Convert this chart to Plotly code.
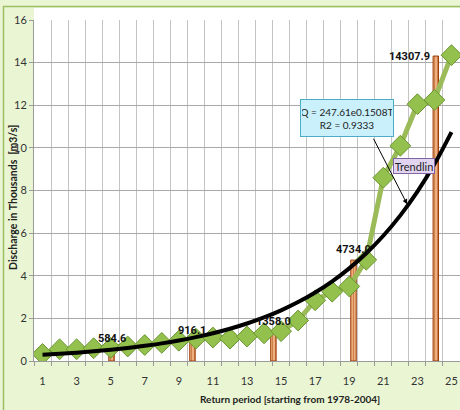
import math
import plotly.graph_objects as go

# Return periods (years counted from 1978) and observed peak discharge, thousands of m3/s
periods = list(range(1, 26))
discharge = [0.33, 0.55, 0.55, 0.6, 0.62, 0.68, 0.75, 0.85, 0.95, 1.05,
             1.1, 1.05, 1.15, 1.3, 1.4, 1.9, 2.85, 3.25, 3.5, 4.75,
             8.6, 10.1, 12.05, 12.25, 14.35]

# Exponential trendline Q = A * exp(B * T), Q in m3/s
trend_a = 247.61
trend_b = 0.1508
trend_r2 = 0.9333

# Design discharges (m3/s) marked at selected return periods
design_t = [5.05, 9.8, 14.55, 19.25, 24.08]
design_q = [584.6, 916.1, 1358.0, 4734.0, 14307.9]

x_ticks = list(range(1, 26, 2))
y_ticks = list(range(0, 17, 2))

trend_vals = [trend_a * math.exp(trend_b * t) / 1000 for t in periods]
design_k = [q / 1000 for q in design_q]

FONT = "Lato, 'Open Sans', sans-serif"
LABEL_FONT = "Roboto, Lato, sans-serif"

fig = go.Figure()

fig.add_trace(go.Scatter(
    x=periods, y=discharge, mode="lines+markers",
    line=dict(color="#9bbb59", width=5),
    marker=dict(symbol="diamond", size=16, color="#94c14d",
                line=dict(color="#6a9532", width=1)),
    hoverinfo="skip",
))

fig.add_trace(go.Bar(
    x=design_t, y=design_k, width=0.32,
    marker=dict(color="#f6c08f", line=dict(color="#9c3a06", width=1),
                pattern=dict(shape="|", fgcolor="#a63e08", bgcolor="#f6c08f",
                             size=3, solidity=0.5)),
    hoverinfo="skip",
))

fig.add_trace(go.Scatter(
    x=periods, y=trend_vals, mode="lines",
    line=dict(color="black", width=4, shape="spline"),
    hoverinfo="skip",
))

annotations = []
for i, (t, q, k) in enumerate(zip(design_t, design_q, design_k)):
    last = i == len(design_t) - 1
    annotations.append(dict(
        x=t, y=k, text=f"<b>{q:.1f}</b>", showarrow=False,
        xanchor="right" if last else "center",
        yanchor="middle" if last else "bottom",
        xshift=-4 if last else 0, yshift=0 if last else 2,
        font=dict(family=LABEL_FONT, size=11, color="#111111"),
    ))

# equation box
annotations.append(dict(
    x=18.86, y=11.4,
    text=f"Q = {trend_a}e{trend_b}T<br>R2 = {trend_r2}",
    showarrow=False, bgcolor="#c9f0fb", bordercolor="#4bacc6", borderwidth=1,
    width=90, height=34, align="center", xanchor="center", yanchor="middle",
    font=dict(family=FONT, size=10, color="#222222"),
))
# arrow from equation box to the curve
annotations.append(dict(
    x=22.4, y=trend_a * math.exp(trend_b * 22.4) / 1000 + 0.1,
    ax=20.38, ay=10.5, axref="x", ayref="y", text="",
    showarrow=True, arrowhead=2, arrowsize=1, arrowwidth=1, arrowcolor="black",
))
annotations.append(dict(
    x=22.79, y=9.17, text="Trendlin", showarrow=False,
    bgcolor="#e0d4f0", bordercolor="#8064a2", borderwidth=1,
    width=38, height=12, xanchor="center", yanchor="middle",
    font=dict(family=FONT, size=11, color="#222222"),
))

# axis titles
annotations.append(dict(
    x=(290 - 34) / 426, y=(361 - 399) / 341, xref="paper", yref="paper",
    xanchor="center", yanchor="middle",
    text="<b>Return period [starting from 1978-2004]</b>", showarrow=False,
    font=dict(family=FONT, size=10, color="#222222"),
))
annotations.append(dict(
    x=(13 - 34) / 426, y=(361 - 198) / 341, xref="paper", yref="paper",
    xanchor="center", yanchor="middle",
    text="<b>Discharge in Thousands  [m3/s]</b>", showarrow=False, textangle=-90,
    font=dict(family=FONT, size=10.5, color="#222222"),
))


def px_x(p):
    return (p - 34) / 426


def px_y(p):
    return (361 - p) / 341


shapes = [
    dict(type="rect", xref="paper", yref="paper",
         x0=px_x(34), x1=px_x(462), y0=px_y(20), y1=px_y(8),
         fillcolor="white", line=dict(width=0), layer="below"),
    dict(type="rect", xref="paper", yref="paper",
         x0=px_x(3.5), x1=px_x(475), y0=px_y(420), y1=px_y(6.5),
         fillcolor="rgba(0,0,0,0)", line=dict(color="#9cbf64", width=1.5), layer="above"),
]

fig.update_layout(
    width=460, height=410,
    margin=dict(l=34, r=0, t=20, b=49),
    paper_bgcolor="#eaf6d3", plot_bgcolor="white",
    showlegend=False, barmode="overlay",
    annotations=annotations, shapes=shapes,
    font=dict(family=FONT, size=11, color="#333333"),
)

fig.update_xaxes(
    range=[0.5, 25.5], tickvals=x_ticks, ticks="outside", ticklen=10,
    tickcolor="rgba(0,0,0,0)", showgrid=False, zeroline=False,
    showline=True, linecolor="#9a9a9a", linewidth=1,
    tickfont=dict(family=FONT, size=11, color="#333333"),
    minor=dict(tickvals=[i + 0.5 for i in range(0, 26)], ticks="outside",
               ticklen=4, tickcolor="#9a9a9a", showgrid=True,
               gridcolor="#c4c4c4", gridwidth=1),
)
fig.update_yaxes(
    range=[0, 16], tickvals=y_ticks, ticks="outside", ticklen=4,
    tickcolor="#9a9a9a", showgrid=True, gridcolor="#a9a9a9", gridwidth=1,
    zeroline=False, showline=True, linecolor="#9a9a9a", linewidth=1,
    tickfont=dict(family=FONT, size=11, color="#333333"),
)

fig.write_html("out.html")
